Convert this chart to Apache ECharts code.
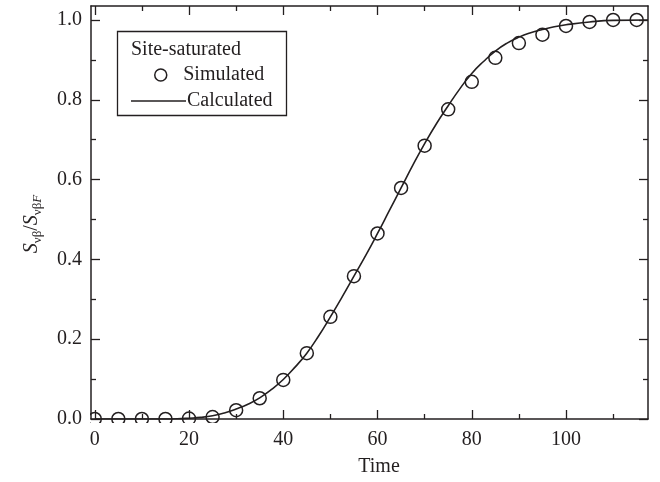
<!DOCTYPE html>
<html>
<head>
<meta charset="utf-8">
<script src="https://cdn.jsdelivr.net/npm/echarts@6/dist/echarts.min.js"></script>
<style>
  html, body { margin: 0; padding: 0; background: #fff; }
  #chart { width: 660px; height: 482px; }
</style>
</head>
<body>
<div id="chart"></div>
<script>
// Simulated points (open circles)
const simTime = [0, 5, 10, 15, 20, 25, 30, 35, 40, 45, 50, 55, 60, 65, 70, 75, 80, 85, 90, 95, 100, 105, 110, 115];
const simValues = [0, 0, 0, 0, 0.001, 0.005, 0.022, 0.052, 0.098, 0.165, 0.256, 0.358, 0.465, 0.579, 0.685, 0.776, 0.845, 0.905, 0.942, 0.963, 0.985, 0.995, 1.0, 1.0];

// Calculated curve (solid line)
const calcTime = [0, 5, 10, 15, 17.5, 20, 22.5, 25, 27.5, 30, 32.5, 35, 37.5, 40, 42.5, 45, 47.5, 50, 52.5, 55, 57.5, 60, 62.5, 65, 67.5, 70, 72.5, 75, 77.5, 80, 82.5, 85, 87.5, 90, 92.5, 95, 97.5, 100, 105, 110, 117.4];
const calcValues = [0, 0, 0, 0, 0.0005, 0.002, 0.004, 0.008, 0.015, 0.025, 0.037, 0.053, 0.074, 0.099, 0.13, 0.165, 0.208, 0.256, 0.306, 0.358, 0.41, 0.465, 0.522, 0.579, 0.636, 0.69, 0.74, 0.785, 0.828, 0.866, 0.896, 0.922, 0.942, 0.957, 0.968, 0.976, 0.983, 0.988, 0.995, 0.999, 1.0];

// Tick positions
const xMajorTicks = [0, 20, 40, 60, 80, 100];
const xMinorTicks = [10, 30, 50, 70, 90, 110];
const yMajorTicks = [0, 0.2, 0.4, 0.6, 0.8, 1.0];
const yMinorTicks = [0.1, 0.3, 0.5, 0.7, 0.9];
const yTickLabels = ['0.0', '0.2', '0.4', '0.6', '0.8', '1.0'];

const legendTitle = 'Site-saturated';

const ink = '#231f20';
const serif = '"Liberation Serif", "DejaVu Serif", serif';
const X_MIN = -0.8, X_MAX = 117.4, Y_MIN = 0, Y_MAX = 1.035;

function xAxisDef(position, ticks, len, opts) {
  return Object.assign({
    type: 'value', position: position, min: X_MIN, max: X_MAX, z: 10,
    axisLine: { show: false, onZero: false, lineStyle: { color: ink, width: 1.5 } },
    axisTick: { show: true, inside: true, length: len, customValues: ticks, lineStyle: { color: ink, width: 1.3 } },
    axisLabel: { show: false },
    splitLine: { show: false }
  }, opts || {});
}
function yAxisDef(position, ticks, len, opts) {
  return Object.assign({
    type: 'value', position: position, min: Y_MIN, max: Y_MAX, z: 10,
    axisLine: { show: false, onZero: false, lineStyle: { color: ink, width: 1.5 } },
    axisTick: { show: true, inside: true, length: len, customValues: ticks, lineStyle: { color: ink, width: 1.3 } },
    axisLabel: { show: false },
    splitLine: { show: false }
  }, opts || {});
}

const chart = echarts.init(document.getElementById('chart'), null, { renderer: 'canvas' });

const option = {
  animation: false,
  backgroundColor: '#fff',
  grid: { left: 91, right: 12, top: 6, bottom: 60 },
  xAxis: [
    xAxisDef('bottom', xMajorTicks, 9, {
      axisLine: { show: true, onZero: false, lineStyle: { color: ink, width: 1.5 } },
      axisLabel: {
        show: true, customValues: xMajorTicks, margin: 11,
        color: ink, fontFamily: serif, fontSize: 20
      },
      name: 'Time', nameLocation: 'middle', nameGap: 38,
      nameTextStyle: { color: ink, fontFamily: serif, fontSize: 20, padding: [0, 0, 0, 19] }
    }),
    xAxisDef('bottom', xMinorTicks, 5),
    xAxisDef('top', xMajorTicks, 9, {
      axisLine: { show: true, onZero: false, lineStyle: { color: ink, width: 1.5 } }
    }),
    xAxisDef('top', xMinorTicks, 5)
  ],
  yAxis: [
    yAxisDef('left', yMajorTicks, 9, {
      axisLine: { show: true, onZero: false, lineStyle: { color: ink, width: 1.5 } },
      axisLabel: {
        show: true, customValues: yMajorTicks, margin: 9,
        color: ink, fontFamily: serif, fontSize: 20,
        formatter: function (v) {
          const i = yMajorTicks.findIndex(t => Math.abs(t - v) < 1e-6);
          return i >= 0 ? yTickLabels[i] : '';
        }
      },
      name: '{s|S}{sub|νβ}{n|/}{s|S}{sub|νβ}{subi|F}',
      nameLocation: 'middle', nameRotate: 90, nameGap: 47,
      nameTextStyle: {
        padding: [0, 23, 0, 0],
        rich: {
          s: { fontFamily: serif, fontStyle: 'italic', fontSize: 20, lineHeight: 24, color: ink },
          n: { fontFamily: serif, fontSize: 20, lineHeight: 24, color: ink },
          sub: { fontFamily: serif, fontSize: 13, lineHeight: 14, verticalAlign: 'bottom', color: ink },
          subi: { fontFamily: serif, fontStyle: 'italic', fontSize: 13, lineHeight: 14, verticalAlign: 'bottom', color: ink }
        }
      }
    }),
    yAxisDef('left', yMinorTicks, 5),
    yAxisDef('right', yMajorTicks, 9, {
      axisLine: { show: true, onZero: false, lineStyle: { color: ink, width: 1.5 } }
    }),
    yAxisDef('right', yMinorTicks, 5)
  ],
  legend: [
    {
      data: ['Simulated'], left: 154, top: 65, padding: 0,
      itemWidth: 13, itemHeight: 12,
      itemStyle: { color: 'rgba(0,0,0,0)', borderColor: ink, borderWidth: 1.5, opacity: 1 },
      textStyle: { color: ink, fontFamily: serif, fontSize: 20, padding: [0, 0, 0, 11] },
      selectedMode: false
    },
    {
      data: [{ name: 'Calculated', icon: 'rect' }], left: 131, top: 91, padding: 0,
      itemWidth: 55, itemHeight: 1.6,
      itemStyle: { color: ink, borderWidth: 0 },
      textStyle: { color: ink, fontFamily: serif, fontSize: 20, padding: [0, 0, 0, -4] },
      selectedMode: false
    }
  ],
  graphic: [
    // white margins so marks straddling the frame are trimmed at the axes
    { type: 'rect', z: 5, silent: true, shape: { x: 0, y: 423, width: 660, height: 59 }, style: { fill: '#fff' } },
    { type: 'rect', z: 5, silent: true, shape: { x: 0, y: 0, width: 90, height: 482 }, style: { fill: '#fff' } },
    // legend frame and heading
    { type: 'rect', z: 6, silent: true, shape: { x: 117.5, y: 31.5, width: 169, height: 84 }, style: { fill: 'none', stroke: ink, lineWidth: 1.3 } },
    { type: 'text', z: 6, silent: true, x: 131, y: 40, style: { text: legendTitle, fill: ink, font: '20px ' + serif } }
  ],
  series: [
    {
      name: 'Simulated', type: 'scatter', xAxisIndex: 0, yAxisIndex: 0,
      symbol: 'circle', symbolSize: 13,
      itemStyle: { color: 'rgba(0,0,0,0)', borderColor: ink, borderWidth: 1.5, opacity: 1 },
      data: simTime.map((t, i) => [t, simValues[i]]),
      z: 2
    },
    {
      name: 'Calculated', type: 'line', xAxisIndex: 0, yAxisIndex: 0,
      symbol: 'none', showSymbol: false, smooth: 0.5,
      lineStyle: { color: ink, width: 1.6 },
      itemStyle: { color: ink },
      data: calcTime.map((t, i) => [t, calcValues[i]]),
      z: 3
    }
  ]
};

chart.setOption(option);
</script>
</body>
</html>
